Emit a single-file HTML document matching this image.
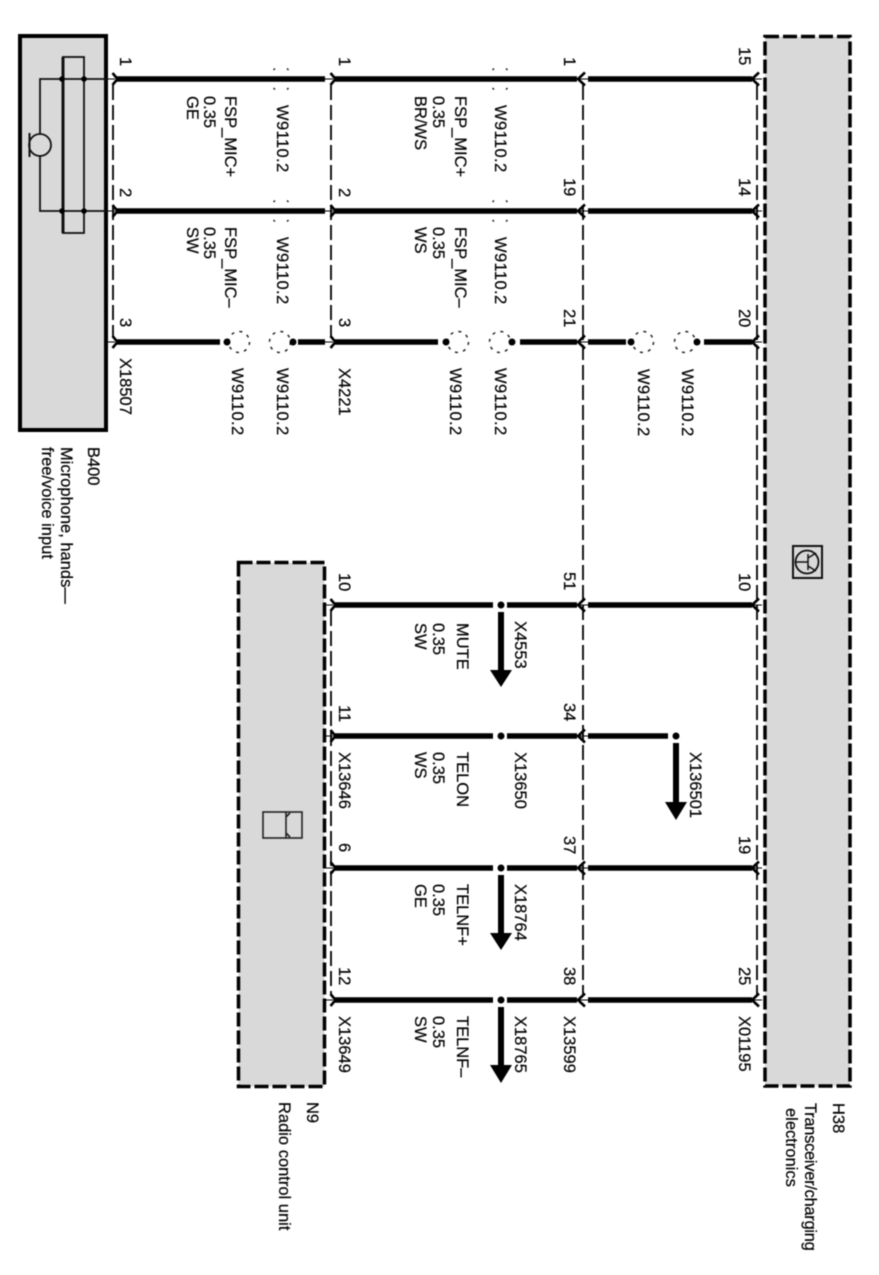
<!DOCTYPE html>
<html><head><meta charset="utf-8"><style>
html,body{margin:0;padding:0;background:#fff}
svg{display:block;filter:blur(.45px)}
text{font-family:"Liberation Sans",sans-serif;font-size:16.5px;fill:#000;stroke:#000;stroke-width:.2px}
.w{letter-spacing:.4px}
</style></head><body>
<svg width="879" height="1275" viewBox="0 0 879 1275" xmlns="http://www.w3.org/2000/svg">
<defs>
<g id="cl" fill="none" stroke="#000"><path d="M112.500,-6 L117.500,0 L112.500,6" stroke-width="2.600"/><path d="M107,0H115" stroke-width="1"/></g>
<g id="cr" fill="none" stroke="#000"><path d="M7,-6.500 L0,0 L7,6.500" stroke-width="2.600"/><path d="M0,0H10" stroke-width="1"/></g>
<g id="sp" fill="none" stroke="#222" stroke-width="1.500"><path d="M-6,-10.500l-1.500,1.500M6,-10.500l1.500,1.500M-6,10.500l-1.500,-1.500M6,10.500l1.500,-1.500"/></g>
</defs>
<!-- boxes -->
<rect x="20" y="36" width="86" height="394" fill="#d9d9d9" stroke="#000" stroke-width="4"/>
<rect x="765" y="36.500" width="85" height="1049.500" fill="#d9d9d9" stroke="#000" stroke-width="3.500" stroke-dasharray="14 4"/>
<rect x="238.500" y="562.500" width="86" height="524" fill="#d9d9d9" stroke="#000" stroke-width="3.500" stroke-dasharray="14 4"/>
<!-- thin dashed verticals -->
<g fill="none" stroke="#000" stroke-width="1.800" stroke-dasharray="15 5">
<path d="M113,85V337"/><path d="M331,85V337"/><path d="M331,611V995"/>
<path d="M583,85V995"/><path d="M757,85V995"/>
</g>
<!-- wires -->
<g fill="none" stroke="#000" stroke-width="5.500">
<path d="M116,79H325M335,79H577M588,79H752"/>
<path d="M116,211H325M335,211H577M588,211H752"/>
<path d="M116,342H220M298,342H325M335,342H438M520,342H577M588,342H626M704,342H752"/>
<path d="M335,605H493M507,605H577M588,605H752"/>
<path d="M335,736H493M507,736H577M588,736H668"/>
<path d="M335,868H493M507,868H577M588,868H752"/>
<path d="M335,1000H493M507,1000H577M588,1000H752"/>
</g>
<!-- connectors -->
<g>
<use href="#cl" y="79"/><use href="#cl" y="211"/><use href="#cl" y="342"/>
<use href="#cl" x="218" y="79"/><use href="#cl" x="218" y="211"/><use href="#cl" x="218" y="342"/>
<use href="#cl" x="218" y="605"/><use href="#cl" x="218" y="736"/><use href="#cl" x="218" y="868"/><use href="#cl" x="218" y="1000"/>
<use href="#cr" x="578" y="79"/><use href="#cr" x="578" y="211"/><use href="#cr" x="578" y="342"/>
<use href="#cr" x="578" y="605"/><use href="#cr" x="578" y="736"/><use href="#cr" x="578" y="868"/><use href="#cr" x="578" y="1000"/>
<use href="#cr" x="752" y="79"/><use href="#cr" x="752" y="211"/><use href="#cr" x="752" y="342"/>
<use href="#cr" x="752" y="605"/><use href="#cr" x="752" y="868"/><use href="#cr" x="752" y="1000"/>
</g>
<!-- splice marks on through wires -->
<use href="#sp" x="281" y="79"/><use href="#sp" x="281" y="211"/><use href="#sp" x="500" y="79"/><use href="#sp" x="500" y="211"/>
<!-- dashed splice circles -->
<g fill="none" stroke="#222" stroke-width="1.500" stroke-dasharray="3 5.250">
<circle cx="239" cy="342" r="10.500"/><circle cx="280" cy="342" r="10.500"/>
<circle cx="458" cy="342" r="10.500"/><circle cx="500" cy="342" r="10.500"/>
<circle cx="643" cy="342" r="10.500"/><circle cx="685" cy="342" r="10.500"/>
</g>
<!-- dots -->
<g fill="#000">
<circle cx="227" cy="342" r="3.500"/><circle cx="293" cy="342" r="3.500"/>
<circle cx="446" cy="342" r="3.500"/><circle cx="512" cy="342" r="3.500"/>
<circle cx="631" cy="342" r="3.500"/><circle cx="697" cy="342" r="3.500"/>
<circle cx="501" cy="605" r="3.500"/><circle cx="501" cy="736" r="3.500"/><circle cx="501" cy="868" r="3.500"/><circle cx="501" cy="1000" r="3.500"/>
<circle cx="676" cy="736" r="3.500"/>
</g>
<!-- arrows -->
<g fill="#000" stroke="none">
<path d="M498,612h6v58h8l-11,17l-11,-17h8z"/>
<path d="M498,875h6v58h8l-11,17l-11,-17h8z"/>
<path d="M498,1007h6v58h8l-11,18l-11,-18h8z"/>
<path d="M673,743h6v59h8l-11,18l-11,-18h8z"/>
</g>
<!-- microphone symbol -->
<g fill="none" stroke="#111" stroke-width="1.800">
<rect x="63" y="57" width="21" height="176"/>
<path d="M63,57V233" stroke-width="3"/>
<path d="M107,79H40V134M40,156V211H107"/>
<circle cx="40" cy="145" r="11"/>
<path d="M29.500,133V157" stroke-width="2"/>
</g>
<g fill="#000"><circle cx="62" cy="79" r="2.800"/><circle cx="84" cy="79" r="2.800"/><circle cx="62" cy="211" r="2.800"/><circle cx="84" cy="211" r="2.800"/></g>
<!-- H38 symbol -->
<g fill="none" stroke="#111">
<rect x="793" y="546" width="29" height="32" stroke-width="2"/>
<circle cx="807" cy="562" r="11.500" stroke-width="1.800"/>
<path d="M796,562H808M808,554V570M808,558L816,553M808,566L816,571" stroke-width="1.500"/>
</g>
<!-- N9 symbol -->
<g fill="#d9d9d9" stroke="#222" stroke-width="1.600">
<rect x="263" y="812" width="39" height="26"/>
<path d="M286,812V838M286,817L290,813M286,833L290,837" fill="none"/>
</g>
<!-- labels -->
<g>
<text transform="translate(120,57) rotate(90)">1</text>
<text transform="translate(120,188) rotate(90)">2</text>
<text transform="translate(120,318) rotate(90)">3</text>
<text transform="translate(120,358) rotate(90)">X18507</text>
<text transform="translate(225,96) rotate(90)">FSP_MIC+</text>
<text transform="translate(204,96) rotate(90)">0.35</text>
<text transform="translate(187,96) rotate(90)">GE</text>
<text transform="translate(225,227) rotate(90)">FSP_MIC–</text>
<text transform="translate(204,227) rotate(90)">0.35</text>
<text transform="translate(187,227) rotate(90)">SW</text>
<text class="w" transform="translate(277,105) rotate(90)">W9110.2</text>
<text class="w" transform="translate(277,237) rotate(90)">W9110.2</text>
<text class="w" transform="translate(232,368) rotate(90)">W9110.2</text>
<text class="w" transform="translate(277,368) rotate(90)">W9110.2</text>
<text transform="translate(339,57) rotate(90)">1</text>
<text transform="translate(339,188) rotate(90)">2</text>
<text transform="translate(339,318) rotate(90)">3</text>
<text transform="translate(339,368) rotate(90)">X4221</text>
<text transform="translate(455,96) rotate(90)">FSP_MIC+</text>
<text transform="translate(433,96) rotate(90)">0.35</text>
<text transform="translate(415,96) rotate(90)">BR/WS</text>
<text transform="translate(455,227) rotate(90)">FSP_MIC–</text>
<text transform="translate(433,227) rotate(90)">0.35</text>
<text transform="translate(415,227) rotate(90)">WS</text>
<text class="w" transform="translate(495,105) rotate(90)">W9110.2</text>
<text class="w" transform="translate(495,237) rotate(90)">W9110.2</text>
<text class="w" transform="translate(450,368) rotate(90)">W9110.2</text>
<text class="w" transform="translate(495,368) rotate(90)">W9110.2</text>
<text transform="translate(564,57) rotate(90)">1</text>
<text transform="translate(564,178) rotate(90)">19</text>
<text transform="translate(564,309) rotate(90)">21</text>
<text class="w" transform="translate(638,369) rotate(90)">W9110.2</text>
<text class="w" transform="translate(682,369) rotate(90)">W9110.2</text>
<text transform="translate(739,47) rotate(90)">15</text>
<text transform="translate(739,178) rotate(90)">14</text>
<text transform="translate(739,309) rotate(90)">20</text>
<text transform="translate(339,573) rotate(90)">10</text>
<text transform="translate(339,705) rotate(90)">11</text>
<text transform="translate(339,843) rotate(90)">6</text>
<text transform="translate(339,967) rotate(90)">12</text>
<text transform="translate(339,752) rotate(90)">X13646</text>
<text transform="translate(339,1016) rotate(90)">X13649</text>
<text transform="translate(457,623) rotate(90)">MUTE</text>
<text transform="translate(433,623) rotate(90)">0.35</text>
<text transform="translate(415,623) rotate(90)">SW</text>
<text transform="translate(515,621) rotate(90)">X4553</text>
<text transform="translate(457,752) rotate(90)">TELON</text>
<text transform="translate(433,752) rotate(90)">0.35</text>
<text transform="translate(415,752) rotate(90)">WS</text>
<text transform="translate(515,752) rotate(90)">X13650</text>
<text transform="translate(457,884) rotate(90)">TELNF+</text>
<text transform="translate(433,884) rotate(90)">0.35</text>
<text transform="translate(415,884) rotate(90)">GE</text>
<text transform="translate(515,884) rotate(90)">X18764</text>
<text transform="translate(457,1016) rotate(90)">TELNF–</text>
<text transform="translate(433,1016) rotate(90)">0.35</text>
<text transform="translate(415,1016) rotate(90)">SW</text>
<text transform="translate(515,1016) rotate(90)">X18765</text>
<text transform="translate(564,572) rotate(90)">51</text>
<text transform="translate(564,703) rotate(90)">34</text>
<text transform="translate(564,836) rotate(90)">37</text>
<text transform="translate(564,967) rotate(90)">38</text>
<text transform="translate(564,1016) rotate(90)">X13599</text>
<text transform="translate(690,752) rotate(90)">X136501</text>
<text transform="translate(739,573) rotate(90)">10</text>
<text transform="translate(739,836) rotate(90)">19</text>
<text transform="translate(739,967) rotate(90)">25</text>
<text transform="translate(739,1016) rotate(90)">X01195</text>
<text transform="translate(88,447) rotate(90)">B400</text>
<text transform="translate(61,447) rotate(90)">Microphone, hands—</text>
<text transform="translate(42,447) rotate(90)">free/voice input</text>
<text transform="translate(307,1102) rotate(90)">N9</text>
<text transform="translate(279,1102) rotate(90)">Radio control unit</text>
<text transform="translate(833,1103) rotate(90)">H38</text>
<text transform="translate(805,1103) rotate(90)" style="letter-spacing:-.3px">Transceiver/charging</text>
<text transform="translate(786,1108) rotate(90)">electronics</text>
</g>
</svg>
</body></html>
